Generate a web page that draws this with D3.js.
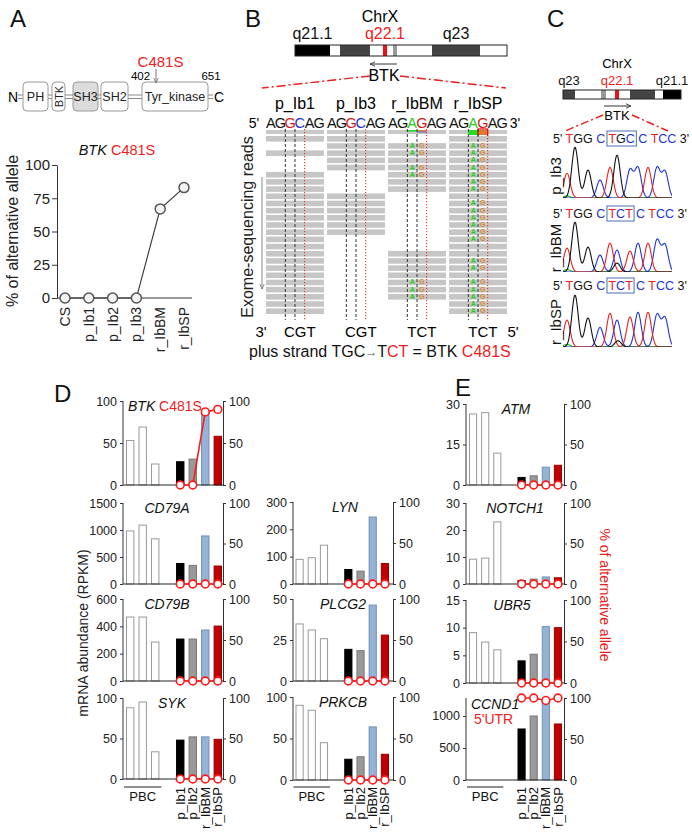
<!DOCTYPE html>
<html><head><meta charset="utf-8">
<script src="https://cdn.jsdelivr.net/npm/d3@7"></script>
<style>body{margin:0;background:#fff}svg{display:block}</style>
</head><body><svg id="c" width="692" height="835"></svg>
<script>
// ================= DATA =================
// Panel A
const domainNames = ["PH","BTK","SH3","SH2","Tyr_kinase"];
const kinaseRange = [402, 651];
const mutation = "C481S";
const samplesA = ["CS","p_Ib1","p_Ib2","p_Ib3","r_IbBM","r_IbSP"];
const altAlleleA = [0,0,0,0,67,83];
const ticksA = [0,25,50,75,100];

// Panel B
const bandStainsB = ["black","white","dark","white","red","white","gray","white","dark","white"];
const bandSizesB = [35,10,30,13,4,6,4,35,48,27];
const bandLabelsB = ["q21.1","q22.1","q23"];
const bandLabelIdxB = [0,4,8];
const readSamples = ["p_Ib1","p_Ib3","r_IbBM","r_IbSP"];
const seqB = ["AGGCAG","AGGCAG","AGAGAG","AGAGAG"];
const codonsB = ["CGT","CGT","TCT","TCT"];
const readsB = [
  "1010011111111111111111111",
  "1111100011111100000000000",
  "0vv1vv11000000001111vvv00",
  "1vvvvvvv1vvvvvv11vv1vvvvv"
];

// Panel C
const bandStainsC = ["dark","white","gray","white","red","white","dark","white","black"];
const bandSizesC = [12,26,5,9,4,11,25,8,18];
const bandLabelsC = ["q23","q22.1","q21.1"];
const bandLabelIdxC = [0,4,8];
const chromSamples = ["p_Ib3","r_IbBM","r_IbSP"];
const chromSeq = ["TGGCTGCCTCC","TGGCTCTCTCC","TGGCTCTCTCC"];
const peakPos = [0,0.8,2.1,3.3,4.3,5.0,6.3,7.1,8.1,9.0,9.8];
const peakH_p_Ib3 = [0.47,0.96,0.53,0.34,0.58,0.81,0.53,0.57,0.58,0.57,0.50];
const peakH_r_IbBM = [0.48,1.00,0.50,0.34,0.58,0.44,0.42,0.58,0.58,0.64,0.54];
const peakH_r_IbSP = [0.52,1.00,0.56,0.38,0.65,0.52,0.58,0.67,0.67,0.62,0.56];
const minor_p_Ib3 = [["A",0.0,0.04]];
const minor_r_IbBM = [["A",0.0,0.05],["G",5.0,0.18]];
const minor_r_IbSP = [["A",0.0,0.05],["G",5.1,0.12]];

// Panels D / E
const pbcLabel = "PBC";
const patients = ["p_Ib1","p_Ib2","r_IbBM","r_IbSP"];
const rpkm_BTK    = [53,69,25,27.7,30.8,87,58];
const rpkm_CD79A  = [982,1090,836,380,345,890,333];
const rpkm_CD79B  = [468,468,285,307,307,373,402];
const rpkm_SYK    = [88,95,33.6,48,52,52,49];
const rpkm_LYN    = [90,96,142,53,47,245,75];
const rpkm_PLCG2  = [34.8,31.1,25.8,19.3,18.5,46.3,28];
const rpkm_PRKCB  = [90,84,45,25,28,64,31];
const rpkm_ATM    = [26.3,26.8,11.8,2.8,3.4,6.6,7.3];
const rpkm_NOTCH1 = [9.2,9.6,23,1.3,1.8,2.6,2.3];
const rpkm_UBR5   = [9.1,7.4,6.0,4.0,5.2,10.2,10.0];
const rpkm_CCND1  = [0,0,0,797,1000,1250,875];
const alt_BTK   = [0,0,87,90];
const alt_CCND1 = [100,100,97,100];
const alt_none  = [0,0,0,0];
const ticks_BTK=[0,50,100], ticks_CD79A=[0,500,1000,1500], ticks_CD79B=[0,200,400,600],
      ticks_SYK=[0,50,100], ticks_LYN=[0,100,200,300], ticks_PLCG2=[0,25,50],
      ticks_PRKCB=[0,50,100], ticks_ATM=[0,15,30], ticks_NOTCH1=[0,10,20,30],
      ticks_UBR5=[0,5,10,15], ticks_CCND1=[0,500,1000];
const ticksAlt = [0,50,100];

// ================= DRAW =================
const FONT = "'Liberation Sans', Arial, Helvetica, sans-serif";
const svg = d3.select("#c").attr("font-family", FONT);
const RED = "#ee1c1c";

function styleAxis(g, fs){
  g.attr("font-family", FONT).attr("font-size", fs);
  g.select(".domain").attr("stroke","#333");
  g.selectAll(".tick line").attr("stroke","#333");
  g.selectAll(".tick text").attr("fill","#222");
}
const defs = svg.append("defs");
function marker(id, color){
  defs.append("marker").attr("id",id).attr("viewBox","0 0 10 10").attr("refX",9).attr("refY",5)
    .attr("markerWidth",6).attr("markerHeight",6).attr("orient","auto-start-reverse")
    .append("path").attr("d","M0,1 L9,5 L0,9").attr("fill","none").attr("stroke",color).attr("stroke-width",1.4);
}
marker("arrG","#777"); marker("arrK","#333");

// Panel letters
[["A",10,27],["B",245,27],["C",547,27],["D",54,402],["E",455,396]].forEach(([t,x,y])=>
  svg.append("text").attr("x",x).attr("y",y).attr("font-size",24).attr("fill","#111").text(t));

// ---------- Panel A : domains ----------
const dLayout = {PH:[23,48],BTK:[52,65],SH3:[73,98],SH2:[101,128],Tyr_kinase:[142,208]};
const gA = svg.append("g");
[95,98.5].forEach(y=>gA.append("line").attr("x1",18).attr("x2",213).attr("y1",y).attr("y2",y).attr("stroke","#888"));
domainNames.forEach(n=>{
  const [x0,x1] = dLayout[n];
  gA.append("rect").attr("x",x0).attr("y",82).attr("width",x1-x0).attr("height",29).attr("rx",4)
    .attr("fill", n==="SH3" ? "#dcdcdc" : "#fff").attr("stroke","#999");
  const t = gA.append("text").attr("text-anchor","middle").attr("font-size",12.5).attr("fill","#222").text(n);
  if(n==="BTK") t.attr("transform",`translate(${(x0+x1)/2+4},96.5) rotate(-90)`).attr("font-size",11);
  else t.attr("x",(x0+x1)/2).attr("y",101);
});
gA.append("text").attr("x",13).attr("y",102).attr("text-anchor","middle").attr("font-size",14).text("N");
gA.append("text").attr("x",219).attr("y",102).attr("text-anchor","middle").attr("font-size",14).text("C");
gA.append("text").attr("x",140.5).attr("y",80).attr("text-anchor","middle").attr("font-size",11.5).text(kinaseRange[0]);
gA.append("text").attr("x",211).attr("y",80).attr("text-anchor","middle").attr("font-size",11.5).text(kinaseRange[1]);
gA.append("text").attr("x",160.5).attr("y",67).attr("text-anchor","middle").attr("font-size",15).attr("fill",RED).text(mutation);
gA.append("line").attr("x1",156).attr("x2",156).attr("y1",69).attr("y2",83).attr("stroke","#777").attr("marker-end","url(#arrG)");

// ---------- Panel A : allele chart ----------
const xA = d3.scalePoint().domain(samplesA).range([65,184]);
const yA = d3.scaleLinear().domain([0,100]).range([298,165]);
const ga = svg.append("g");
const axA = ga.append("g").attr("transform","translate(57,0)")
  .call(d3.axisLeft(yA).tickValues(ticksA).tickSize(5).tickSizeOuter(0).tickPadding(2));
styleAxis(axA,15);
ga.append("line").attr("x1",57).attr("x2",192).attr("y1",298).attr("y2",298).attr("stroke","#333");
ga.append("path").datum(altAlleleA).attr("fill","none").attr("stroke","#333").attr("stroke-width",1.1)
  .attr("d", d3.line().x((d,i)=>xA(samplesA[i])).y(d=>yA(d)));
ga.selectAll("circle").data(altAlleleA).join("circle").attr("cx",(d,i)=>xA(samplesA[i])).attr("cy",d=>yA(d))
  .attr("r",5).attr("fill","#f2f2f2").attr("stroke","#555").attr("stroke-width",1.5);
ga.selectAll("text.xl").data(samplesA).join("text").attr("class","xl")
  .attr("transform",d=>`translate(${xA(d)},307) rotate(-90)`).attr("text-anchor","end").attr("dy","0.35em")
  .attr("font-size",14).attr("fill","#222").text(d=>d);
ga.append("text").attr("transform","translate(18,231) rotate(-90)").attr("text-anchor","middle")
  .attr("font-size",16).attr("fill","#222").text("% of alternative allele");
const tA = ga.append("text").attr("x",117).attr("y",155).attr("text-anchor","middle").attr("font-size",14.5);
tA.append("tspan").attr("font-style","italic").attr("fill","#111").text("BTK");
tA.append("tspan").attr("fill",RED).text(" "+mutation);

// ---------- Chromosome helper ----------
const stainColor = {black:"#000", dark:"#444", gray:"#999", white:"#fff", red:"#ee1111"};
function chromosome(g, stains, sizes, labels, labelIdx, x0, x1, y, h, fs, labY){
  const sc = d3.scaleLinear().domain([0,d3.sum(sizes)]).range([x0,x1]);
  const cum = d3.cumsum(sizes);
  const starts = sizes.map((s,i)=>cum[i]-s);
  g.selectAll("rect.band").data(sizes).join("rect").attr("class","band")
    .attr("x",(d,i)=>sc(starts[i])).attr("width",d=>sc(d)-sc(0)).attr("y",y).attr("height",h)
    .attr("fill",(d,i)=>stainColor[stains[i]]);
  g.append("rect").attr("x",x0).attr("y",y).attr("width",x1-x0).attr("height",h).attr("fill","none").attr("stroke","#222");
  labels.forEach((l,k)=>{
    const i = labelIdx[k];
    g.append("text").attr("x",sc(starts[i]+sizes[i]/2)).attr("y",labY).attr("text-anchor","middle")
      .attr("font-size",fs).attr("fill", stains[i]==="red"?RED:"#111").text(l);
  });
}

// ---------- Panel B ----------
const gB = svg.append("g");
gB.append("text").attr("x",380).attr("y",22).attr("text-anchor","middle").attr("font-size",16).text("ChrX");
chromosome(gB, bandStainsB, bandSizesB, bandLabelsB, bandLabelIdxB, 295, 507, 45, 11, 16, 39);
gB.append("line").attr("x1",397).attr("x2",370).attr("y1",64).attr("y2",64).attr("stroke","#333").attr("marker-end","url(#arrK)");
gB.append("text").attr("x",384).attr("y",81).attr("text-anchor","middle").attr("font-size",16).text("BTK");
[[370,76,262,88],[400,76,506,88]].forEach(([a,b,c,d])=>gB.append("line").attr("x1",a).attr("y1",b).attr("x2",c).attr("y2",d)
  .attr("stroke",RED).attr("stroke-width",1.5).attr("stroke-dasharray","9,3,2,3"));
const colB = d3.scaleBand().domain(readSamples).range([266,507]).paddingInner(0.05);
const rowB = d3.scaleBand().domain(d3.range(25)).range([136,314]).paddingInner(0.22);
const bwB = colB.bandwidth(), baseW = bwB/6;
const hiColor = {A:"#22cc22", G:"#d01818", C:"#2233cc"};
readSamples.forEach((s,c)=>{
  const x0 = colB(s);
  gB.append("text").attr("x",x0+bwB/2).attr("y",109).attr("text-anchor","middle").attr("font-size",16).text(s);
  seqB[c].split("").forEach((b,i)=>gB.append("text").attr("x",x0+(i+0.5)*baseW).attr("y",128)
    .attr("text-anchor","middle").attr("font-size",14.5).attr("fill",(i===2||i===3)?hiColor[b]:"#111").text(b));
  gB.append("rect").attr("x",x0).attr("y",130).attr("width",bwB).attr("height",4).attr("fill","#c8c8c8");
  const reads = readsB[c].split("");
  const nv = reads.filter(r=>r==="v").length, nr = reads.filter(r=>r!=="0").length;
  if(nv>0){
    const f = nv/nr;
    const hh = f>0.6 ? 5 : 1.6;
    gB.append("rect").attr("x",x0+2*baseW).attr("y",130).attr("width",baseW).attr("height",hh).attr("fill","#22dd22");
    gB.append("rect").attr("x",x0+3*baseW).attr("y",130).attr("width",baseW).attr("height",hh).attr("fill","#e07a30");
    if(f>0.6) gB.append("rect").attr("x",x0+3*baseW).attr("y",129).attr("width",baseW).attr("height",8).attr("fill","none").attr("stroke","#e00").attr("stroke-width",1.2);
    else gB.append("rect").attr("x",x0+3*baseW).attr("y",131.6).attr("width",baseW).attr("height",1).attr("fill","#5566dd");
  }
  reads.forEach((r,i)=>{
    if(r==="0") return;
    gB.append("rect").attr("x",x0).attr("y",rowB(i)).attr("width",bwB).attr("height",rowB.bandwidth()).attr("fill","#c6c6c6");
    if(r==="v"){
      gB.append("text").attr("x",x0+2.5*baseW).attr("y",rowB(i)+rowB.bandwidth()-0.8).attr("text-anchor","middle")
        .attr("font-size",7).attr("font-weight","bold").attr("fill","#22cc22").text("A");
      gB.append("text").attr("x",x0+3.5*baseW).attr("y",rowB(i)+rowB.bandwidth()-0.8).attr("text-anchor","middle")
        .attr("font-size",7).attr("font-weight","bold").attr("fill","#d98a2b").text("G");
    }
  });
  [[2,"#333","3,2"],[3,"#333","3,2"],[4,RED,"1.2,1.8"]].forEach(([k,col,da])=>
    gB.append("line").attr("x1",x0+k*baseW).attr("x2",x0+k*baseW).attr("y1",129).attr("y2",320)
      .attr("stroke",col).attr("stroke-width",1).attr("stroke-dasharray",da));
  gB.append("text").attr("x",x0+3.5*baseW).attr("y",337).attr("text-anchor","middle").attr("font-size",15).text(codonsB[c]);
});
gB.append("text").attr("x",254).attr("y",128).attr("text-anchor","middle").attr("font-size",14).text("5'");
gB.append("text").attr("x",515).attr("y",128).attr("text-anchor","middle").attr("font-size",14).text("3'");
gB.append("text").attr("x",261).attr("y",337).attr("text-anchor","middle").attr("font-size",15).text("3'");
gB.append("text").attr("x",513).attr("y",337).attr("text-anchor","middle").attr("font-size",15).text("5'");
gB.append("text").attr("transform","translate(247,227) rotate(-90)").attr("text-anchor","middle").attr("dy","0.35em")
  .attr("font-size",16).attr("fill","#222").text("Exome-sequencing reads");
gB.append("line").attr("x1",262).attr("x2",262).attr("y1",177).attr("y2",289).attr("stroke","#888").attr("marker-end","url(#arrG)");
const ps = gB.append("text").attr("x",249).attr("y",357).attr("font-size",16).attr("fill","#111");
ps.append("tspan").text("plus strand TGC");
ps.append("tspan").attr("fill","#555").attr("font-size",12).attr("dy",-1).text("\u2192");
ps.append("tspan").attr("dy",1).text("T");
ps.append("tspan").attr("fill",RED).text("CT");
ps.append("tspan").text(" = BTK ");
ps.append("tspan").attr("fill",RED).text(mutation);

// ---------- Panel C ----------
const gC = svg.append("g");
gC.append("text").attr("x",617).attr("y",68).attr("text-anchor","middle").attr("font-size",13).text("ChrX");
chromosome(gC, bandStainsC, bandSizesC, bandLabelsC, bandLabelIdxC, 563, 681, 90, 9, 13, 85);
gC.append("line").attr("x1",604).attr("x2",631).attr("y1",106).attr("y2",106).attr("stroke","#333").attr("marker-end","url(#arrK)");
gC.append("text").attr("x",617).attr("y",120).attr("text-anchor","middle").attr("font-size",13).text("BTK");
[[603,115,565,131],[632,115,668,131]].forEach(([a,b,c,d])=>gC.append("line").attr("x1",a).attr("y1",b).attr("x2",c).attr("y2",d)
  .attr("stroke",RED).attr("stroke-width",1.4).attr("stroke-dasharray","8,3,2,3"));
const baseColC = {T:"#e52222", G:"#111", C:"#2233dd", A:"#22bb22"};
const peakSets = [peakH_p_Ib3, peakH_r_IbBM, peakH_r_IbSP];
const minorSets = [minor_p_Ib3, minor_r_IbBM, minor_r_IbSP];
const seqBase = [143,218,290], chromTop = [145,222,295], chromBot = [198,272,347], labY = [176,248,322];
const xC = d3.scaleLinear().domain([0,9.8]).range([567,665]);
chromSamples.forEach((s,k)=>{
  const seq = chromSeq[k];
  const groups = [seq.slice(0,3), seq.slice(3,4), seq.slice(4,7), seq.slice(7,8), seq.slice(8)];
  const t = gC.append("text").attr("x",553).attr("y",seqBase[k]).attr("font-size",12.5).style("white-space","pre");
  t.append("tspan").attr("fill","#111").text("5' ");
  groups.forEach(gr=>{
    gr.split("").forEach(ch=>t.append("tspan").attr("fill",baseColC[ch]).text(ch));
    t.append("tspan").text(" ");
  });
  t.append("tspan").attr("fill","#111").text("3'");
  const n = t.node();
  const s0 = n.getStartPositionOfChar(9).x, s1 = n.getEndPositionOfChar(11).x;
  gC.append("rect").attr("x",s0-1.5).attr("y",seqBase[k]-12).attr("width",s1-s0+3).attr("height",15)
    .attr("fill","none").attr("stroke","#4a6fb5").attr("stroke-width",1);
  const cid = "clipC"+k;
  defs.append("clipPath").attr("id",cid).append("rect").attr("x",563).attr("y",chromTop[k]-2).attr("width",109).attr("height",chromBot[k]-chromTop[k]+2);
  const yC = d3.scaleLinear().domain([0,1]).range([chromBot[k], chromTop[k]]);
  const peaks = seq.split("").map((b,i)=>[b, peakPos[i], peakSets[k][i]]).concat(minorSets[k]);
  const grid = d3.range(-1, 10.8, 0.05);
  const gg = gC.append("g").attr("clip-path",`url(#${cid})`);
  ["A","C","T","G"].forEach(b=>{
    const pk = peaks.filter(p=>p[0]===b);
    const pts = grid.map(xv=>[xv, d3.sum(pk, p=>p[2]*Math.exp(-Math.pow(xv-p[1],2)/(2*0.32*0.32)))]);
    gg.append("path").attr("d", d3.line().x(d=>xC(d[0])).y(d=>yC(d[1])).curve(d3.curveBasis)(pts))
      .attr("fill","none").attr("stroke",baseColC[b]).attr("stroke-width",1.1);
  });
  gC.append("text").attr("transform",`translate(556,${labY[k]}) rotate(-90)`).attr("text-anchor","middle").attr("dy","0.35em")
    .attr("font-size",15).attr("fill","#111").text(s);
});

// ---------- Panels D / E ----------
const cols = [{l:123,r:223,pad:[3,1]},{l:293,r:393,pad:[2.5,4]},{l:466,r:564,pad:[3,2]}];
const charts = [
  {g:"BTK",v:rpkm_BTK,a:alt_BTK,t:ticks_BTK,max:100,c:0,top:401,bot:485,tx:128,anchor:"start",sub:mutation,subInline:true},
  {g:"CD79A",v:rpkm_CD79A,a:alt_none,t:ticks_CD79A,max:1500,c:0,top:503,bot:584,tx:167},
  {g:"CD79B",v:rpkm_CD79B,a:alt_none,t:ticks_CD79B,max:600,c:0,top:599,bot:681,tx:167},
  {g:"SYK",v:rpkm_SYK,a:alt_none,t:ticks_SYK,max:100,c:0,top:698,bot:779,tx:172,last:true},
  {g:"LYN",v:rpkm_LYN,a:alt_none,t:ticks_LYN,max:300,c:1,top:502,bot:584,tx:345},
  {g:"PLCG2",v:rpkm_PLCG2,a:alt_none,t:ticks_PLCG2,max:50,c:1,top:599,bot:681,tx:343},
  {g:"PRKCB",v:rpkm_PRKCB,a:alt_none,t:ticks_PRKCB,max:100,c:1,top:697,bot:780,tx:343,last:true},
  {g:"ATM",v:rpkm_ATM,a:alt_none,t:ticks_ATM,max:30,c:2,top:404,bot:485,tx:516},
  {g:"NOTCH1",v:rpkm_NOTCH1,a:alt_none,t:ticks_NOTCH1,max:30,c:2,top:503,bot:584,tx:515},
  {g:"UBR5",v:rpkm_UBR5,a:alt_none,t:ticks_UBR5,max:15,c:2,top:600,bot:683,tx:512},
  {g:"CCND1",v:rpkm_CCND1,a:alt_CCND1,t:ticks_CCND1,max:1281,c:2,top:698,bot:780,tx:471,anchor:"start",sub:"5'UTR",last:true,tdy:11}
];
const slots = [0,1,2,4,5,6,7];
const barFill = ["#fff","#fff","#fff","#000","#999","#95b3d7","#c00000"];
const barStroke = ["#999","#999","#999","#000","#777","#7090b8","#900"];
charts.forEach(ch=>{
  const col = cols[ch.c];
  const g = svg.append("g");
  const x = d3.scaleBand().domain(d3.range(8)).range([col.l+col.pad[0], col.r-col.pad[1]]).paddingInner(0.33).paddingOuter(0);
  const y = d3.scaleLinear().domain([0,ch.max]).range([ch.bot, ch.top]);
  const yr = d3.scaleLinear().domain([0,100]).range([ch.bot, ch.top]);
  g.selectAll("rect").data(ch.v).join("rect")
    .attr("x",(d,i)=>x(slots[i])+0.5).attr("width",x.bandwidth()-1)
    .attr("y",d=>y(d)).attr("height",d=>ch.bot-y(d))
    .attr("fill",(d,i)=>barFill[i]).attr("stroke",(d,i)=>barStroke[i]).attr("stroke-width",1)
    .attr("display",d=>d>0?null:"none");
  const al = g.append("g").attr("transform",`translate(${col.l},0)`)
    .call(d3.axisLeft(y).tickValues(ch.t).tickFormat(d3.format("d")).tickSize(3).tickSizeOuter(0).tickPadding(3));
  styleAxis(al,12.5);
  al.select(".domain").attr("d",`M-0,${ch.bot}V${ch.top}`);
  const ar = g.append("g").attr("transform",`translate(${col.r},0)`)
    .call(d3.axisRight(yr).tickValues(ticksAlt).tickFormat(d3.format("d")).tickSize(3).tickSizeOuter(0).tickPadding(3));
  styleAxis(ar,12.5);
  g.append("line").attr("x1",col.l).attr("x2",col.r).attr("y1",ch.bot).attr("y2",ch.bot).attr("stroke","#222");
  const px = i=>x(slots[3+i])+x.bandwidth()/2;
  g.append("path").datum(ch.a).attr("fill","none").attr("stroke","#ff1a1a").attr("stroke-width",1.6)
    .attr("d", d3.line().x((d,i)=>px(i)).y(d=>yr(d)));
  g.selectAll("circle").data(ch.a).join("circle").attr("cx",(d,i)=>px(i)).attr("cy",d=>yr(d)).attr("r",3.9)
    .attr("fill","#fff").attr("stroke","#ff1a1a").attr("stroke-width",1.6);
  const tt = g.append("text").attr("x",ch.tx).attr("y",ch.top+(ch.tdy||10)).attr("text-anchor",ch.anchor||"middle").attr("font-size",14);
  tt.append("tspan").attr("font-style","italic").attr("fill","#111").text(ch.g);
  if(ch.sub && ch.subInline) tt.append("tspan").attr("fill",RED).text(" "+ch.sub);
  if(ch.sub && !ch.subInline) g.append("text").attr("x",ch.tx+3).attr("y",ch.top+26).attr("font-size",14).attr("fill",RED).text(ch.sub);
  if(ch.last){
    g.append("line").attr("x1",x(0)-2).attr("x2",x(2)+x.bandwidth()+2).attr("y1",787).attr("y2",787).attr("stroke","#222").attr("stroke-width",1.2);
    g.append("text").attr("x",(x(0)+x(2)+x.bandwidth())/2).attr("y",801).attr("text-anchor","middle").attr("font-size",13).attr("fill","#111").text(pbcLabel);
    g.selectAll("text.pl").data(patients).join("text").attr("class","pl")
      .attr("transform",(d,i)=>`translate(${px(i)},787) rotate(-90)`).attr("text-anchor","end").attr("dy","0.35em")
      .attr("font-size",13).attr("fill","#111").text(d=>d);
  }
});
svg.append("text").attr("transform","translate(83,633) rotate(-90)").attr("text-anchor","middle").attr("dy","0.35em")
  .attr("font-size",14).attr("fill","#222").text("mRNA abundance (RPKM)");
svg.append("text").attr("transform","translate(605,595) rotate(90)").attr("text-anchor","middle").attr("dy","0.35em")
  .attr("font-size",14).attr("fill",RED).text("% of alternative allele");
</script></body></html>
